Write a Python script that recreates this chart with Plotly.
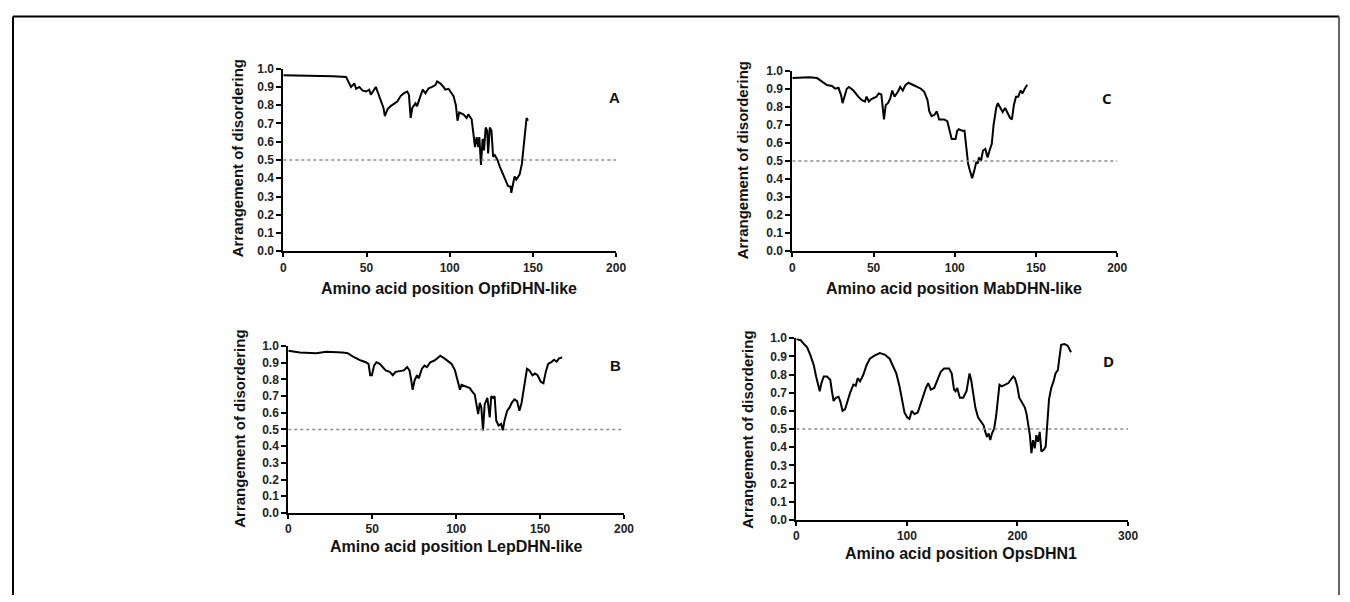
import plotly.graph_objects as go

# ---------------- data ----------------
pos_A = [0, 10, 20, 30, 37.7, 40.7, 42.7, 43.7, 45.7, 47.7, 49.7, 51.6, 52.6, 54.6, 55.6, 56.6, 58.6, 60.2, 61,
         62.6, 64.5, 66.5, 68.5, 70.5, 72.5, 74.5, 75.5, 76.5, 77.5, 79.4, 80.4, 82.4, 83.8, 85.4, 87.4, 89.4,
         91.4, 92.4, 94.3, 96.3, 97.3, 99.3, 101.3, 102.3, 103.7, 104.7, 105.7, 108.2, 110.2, 111.2, 113.2,
         114.2, 115.2, 116.2, 117.2, 117.8, 118.8, 119.8, 120.6, 121.6, 122.5, 123.1, 124.1, 125.1, 126.1,
         127.1, 128.7, 130.1, 132.1, 134.1, 135.1, 136.6, 137, 138.4, 139, 140, 142, 143.4, 144.6, 145.4,
         146.2, 147]
dis_A = [0.964, 0.962, 0.963, 0.958, 0.955, 0.90, 0.92, 0.89, 0.90, 0.88, 0.875, 0.885, 0.857, 0.89, 0.90, 0.875,
         0.83, 0.785, 0.74, 0.777, 0.795, 0.81, 0.82, 0.85, 0.866, 0.875, 0.857, 0.73, 0.785, 0.81, 0.795, 0.85,
         0.885, 0.866, 0.893, 0.90, 0.91, 0.93, 0.92, 0.90, 0.885, 0.89, 0.866, 0.85, 0.80, 0.715, 0.76, 0.75,
         0.73, 0.75, 0.723, 0.643, 0.571, 0.625, 0.571, 0.625, 0.473, 0.616, 0.553, 0.678, 0.66, 0.536, 0.678,
         0.66, 0.518, 0.527, 0.50, 0.464, 0.42, 0.384, 0.357, 0.354, 0.32, 0.384, 0.41, 0.393, 0.42, 0.48,
         0.571, 0.66, 0.73, 0.715]

pos_C = [0, 10.2, 15.2, 18.3, 21.3, 24.4, 26.4, 28.4, 30, 30.9, 32, 33.5, 34.9, 37.6, 40.6, 42.6, 44.7, 45.7,
         47.1, 48.7, 51.8, 53.2, 54.8, 55.8, 56.4, 57.5, 58.9, 60.3, 61.5, 62.9, 65, 66.4, 68, 69.6, 71.5, 74.1,
         76.8, 79.2, 81.2, 83.2, 84.3, 85.7, 87.7, 88.9, 90.4, 93.4, 95.4, 97.1, 98.1, 100.5, 101.5, 102.5,
         104.6, 106, 107.2, 108.2, 109.2, 110.7, 112.1, 113.3, 114.1, 114.9, 116.1, 117.4, 118.8, 120.2, 121.4,
         122.8, 123.9, 125.5, 126.5, 127.9, 129.5, 131, 132.4, 134, 135.2, 136.4, 137.7, 139.1, 140.5, 141.7,
         143.1, 144.6]
dis_C = [0.959, 0.964, 0.959, 0.94, 0.92, 0.915, 0.90, 0.905, 0.865, 0.82, 0.856, 0.90, 0.91, 0.89, 0.856, 0.838,
         0.829, 0.856, 0.829, 0.843, 0.856, 0.874, 0.868, 0.793, 0.73, 0.81, 0.82, 0.847, 0.89, 0.856, 0.883,
         0.91, 0.89, 0.92, 0.933, 0.922, 0.91, 0.90, 0.883, 0.838, 0.775, 0.748, 0.757, 0.775, 0.73, 0.73, 0.72,
         0.667, 0.622, 0.622, 0.667, 0.676, 0.667, 0.667, 0.55, 0.486, 0.45, 0.405, 0.45, 0.495, 0.486, 0.52,
         0.50, 0.558, 0.567, 0.52, 0.558, 0.595, 0.70, 0.793, 0.82, 0.793, 0.771, 0.793, 0.766, 0.739, 0.73,
         0.81, 0.856, 0.856, 0.89, 0.874, 0.90, 0.922]

pos_B = [0, 6.9, 16.7, 22.6, 32.4, 35.4, 38.3, 40.3, 43.3, 46.2, 47.8, 48.8, 49.8, 51.1, 52.5, 54.5, 56, 58,
         60.4, 62.3, 63.9, 66.3, 68.8, 70.8, 72.2, 73.4, 74.1, 75.3, 76.7, 77.7, 79.6, 81.2, 82.6, 84.6, 87.1,
         89.5, 90.5, 93, 95.4, 97.3, 99.3, 100.9, 102.3, 103.2, 106.2, 108.2, 109.5, 111.1, 112.1, 113.1, 114.1,
         115, 116, 117, 118.6, 120, 120.9, 122, 122.9, 123.9, 125.3, 126.8, 127.8, 128.8, 130.4, 131.8, 133.1,
         134.7, 136.3, 137.7, 139, 140.6, 142.2, 143.6, 145.5, 146.9, 148.5, 150.4, 152, 153.4, 154.8, 156.7,
         158.3, 159.9, 161.3, 163.2]
dis_B = [0.971, 0.961, 0.957, 0.965, 0.961, 0.957, 0.938, 0.926, 0.913, 0.903, 0.893, 0.825, 0.825, 0.883, 0.903,
         0.893, 0.874, 0.854, 0.845, 0.825, 0.845, 0.849, 0.854, 0.874, 0.854, 0.786, 0.738, 0.796, 0.825, 0.806,
         0.864, 0.883, 0.874, 0.903, 0.913, 0.932, 0.942, 0.926, 0.907, 0.893, 0.854, 0.796, 0.738, 0.767, 0.757,
         0.748, 0.728, 0.709, 0.65, 0.592, 0.66, 0.631, 0.495, 0.65, 0.689, 0.573, 0.699, 0.689, 0.699, 0.553,
         0.524, 0.534, 0.495, 0.553, 0.612, 0.631, 0.66, 0.68, 0.67, 0.612, 0.66, 0.757, 0.864, 0.854, 0.825,
         0.835, 0.825, 0.786, 0.777, 0.845, 0.893, 0.903, 0.918, 0.907, 0.926, 0.932]

pos_D = [0, 3.9, 6.9, 9.8, 12.8, 15.8, 17.9, 19.7, 21.2, 22.7, 24.8, 27.7, 30.7, 32.2, 33.7, 35.8, 38.2, 39.7,
         41.8, 44.1, 46.5, 48.6, 51.6, 53.7, 55.5, 57.6, 60.5, 63.5, 66.5, 71, 75.5, 79.9, 84.4, 87.4, 90.4,
         93.3, 95.4, 97.8, 100.2, 102.3, 104.4, 106.8, 109.8, 112.7, 115.1, 117.2, 119.3, 121.7, 124.7, 127.6,
         130.6, 133.6, 138.1, 140.5, 142.6, 144, 145.5, 147.9, 150.9, 153.9, 155.4, 156.6, 158.1, 159.9, 161.9,
         164.3, 167, 169.4, 170.9, 172.4, 173.9, 175.4, 176.9, 178.9, 180.7, 182.2, 183.7, 185.8, 188.8, 191.8,
         193.9, 196.2, 197.7, 199.8, 201.6, 204.6, 206.7, 208.2, 209.7, 211.2, 212.6, 214.1, 215.6, 217.1,
         218.6, 220.1, 221.6, 223.7, 225.5, 227, 228.5, 230.5, 232.6, 234.4, 236.5, 238, 239.5, 242.5, 245.4,
         248.4]
dis_D = [0.995, 0.989, 0.968, 0.95, 0.905, 0.851, 0.789, 0.735, 0.708, 0.753, 0.789, 0.789, 0.771, 0.708, 0.654,
         0.672, 0.677, 0.654, 0.60, 0.609, 0.663, 0.699, 0.744, 0.738, 0.78, 0.762, 0.797, 0.851, 0.887, 0.905,
         0.918, 0.91, 0.887, 0.851, 0.806, 0.735, 0.663, 0.591, 0.565, 0.556, 0.60, 0.582, 0.591, 0.645, 0.69,
         0.726, 0.753, 0.717, 0.726, 0.771, 0.815, 0.833, 0.833, 0.806, 0.717, 0.708, 0.726, 0.672, 0.672, 0.708,
         0.78, 0.806, 0.771, 0.699, 0.618, 0.565, 0.538, 0.52, 0.484, 0.457, 0.475, 0.439, 0.475, 0.502, 0.573,
         0.663, 0.744, 0.735, 0.744, 0.753, 0.771, 0.789, 0.78, 0.735, 0.672, 0.636, 0.618, 0.582, 0.52, 0.466,
         0.367, 0.439, 0.394, 0.466, 0.43, 0.484, 0.376, 0.385, 0.403, 0.538, 0.663, 0.726, 0.762, 0.806, 0.824,
         0.896, 0.964, 0.968, 0.959, 0.923]

panel_letters = ["A", "C", "B", "D"]
protein_names = ["OpfiDHN-like", "MabDHN-like", "LepDHN-like", "OpsDHN1"]
x_max = [200, 200, 200, 300]
x_tick_step = [50, 50, 50, 100]
y_title = "Arrangement of disordering"
x_title_prefix = "Amino acid position "
THRESHOLD = 0.5

series = [(pos_A, dis_A), (pos_C, dis_C), (pos_B, dis_B), (pos_D, dis_D)]

# ---------------- layout (pixel geometry, screen coords) ----------------
OFF = 8                      # default page body margin
W, H = 1350 - OFF, 602 - OFF  # figure size so that it fills the window


def px(x):
    return (x - OFF) / W


def py(y):
    return 1 - (y - OFF) / H


# plot boxes in screen pixels: (left, right, top, bottom)
boxes = [(283, 619, 63, 250), (797, 1125, 65, 250), (288, 627, 347, 518), (801, 1136, 339, 525)]
ytitle_pos = [(237, 155), (747, 157), (238, 432), (752, 433)]
xtitle_pos = [(450, 288), (960, 288), (458, 552), (967, 560)]
letter_pos = [(617, 93), (1115, 93), (618, 367), (1116, 362)]
letter_fonts = ["Liberation Sans", "Open Sans", "Liberation Sans", "Open Sans"]

fig = go.Figure()
tickfont = dict(family="Liberation Sans", size=12, color="#222222")
annotations = []
shapes = []

for i, ((xs, ys), L, name, xm, step) in enumerate(zip(series, panel_letters, protein_names, x_max, x_tick_step)):
    n = "" if i == 0 else str(i + 1)
    xa, ya = "x" + n, "y" + n
    fig.add_trace(go.Scatter(x=xs, y=ys, mode="lines", xaxis=xa, yaxis=ya,
                             line=dict(color="black", width=2), showlegend=False, hoverinfo="skip"))
    l, r, t, b = boxes[i]
    fig.layout["xaxis" + n] = dict(
        domain=[px(l), px(r)], range=[0, xm], anchor=ya, dtick=step, tick0=0,
        showline=True, linecolor="black", linewidth=2, ticks="outside", ticklen=4, tickwidth=2,
        tickcolor="black", showgrid=False, zeroline=False, tickfont=tickfont,
        tickprefix="<b>", ticksuffix="</b>", fixedrange=True)
    fig.layout["yaxis" + n] = dict(
        domain=[py(b), py(t)], range=[0, 1.0], anchor=xa, dtick=0.1, tick0=0,
        tickformat=".1f", showline=True, linecolor="black", linewidth=2, ticks="outside",
        ticklen=5, tickwidth=2, tickcolor="black", showgrid=False, zeroline=False,
        tickfont=tickfont, tickprefix="<b>", ticksuffix="</b>", fixedrange=True)
    shapes.append(dict(type="line", xref=xa, yref=ya, x0=0, x1=xm, y0=THRESHOLD, y1=THRESHOLD,
                       line=dict(color="#8a8a8a", width=1.5, dash="dot")))
    yx, yy = ytitle_pos[i]
    annotations.append(dict(text="<b>" + y_title + "</b>", x=px(yx), y=py(yy), xref="paper", yref="paper",
                            showarrow=False, textangle=-90, xanchor="center", yanchor="middle",
                            font=dict(family="Liberation Sans", size=15, color="#111111")))
    tx, ty = xtitle_pos[i]
    annotations.append(dict(text="<b>" + x_title_prefix + name + "</b>", x=px(tx), y=py(ty),
                            xref="paper", yref="paper", showarrow=False, xanchor="center", yanchor="middle",
                            font=dict(family="Liberation Sans", size=16, color="#111111")))
    lx, ly = letter_pos[i]
    annotations.append(dict(text="<b>" + L + "</b>", x=px(lx), y=py(ly), xref="paper", yref="paper",
                            showarrow=False, xanchor="center", yanchor="middle",
                            font=dict(family=letter_fonts[i], size=15, color="#111111")))

# outer frame of the figure image
top = py(9.5)
shapes += [
    dict(type="line", xref="paper", yref="paper", x0=px(10), x1=px(10), y0=0, y1=top,
         line=dict(color="black", width=2)),
    dict(type="line", xref="paper", yref="paper", x0=px(10), x1=px(1349), y0=top, y1=top,
         line=dict(color="black", width=2)),
    dict(type="line", xref="paper", yref="paper", x0=px(1349), x1=px(1349), y0=0, y1=top,
         line=dict(color="#666666", width=2)),
]

fig.update_layout(width=W, height=H, margin=dict(l=0, r=0, t=0, b=0), paper_bgcolor="white",
                  plot_bgcolor="white", showlegend=False, annotations=annotations, shapes=shapes)

fig.write_html("out.html")
